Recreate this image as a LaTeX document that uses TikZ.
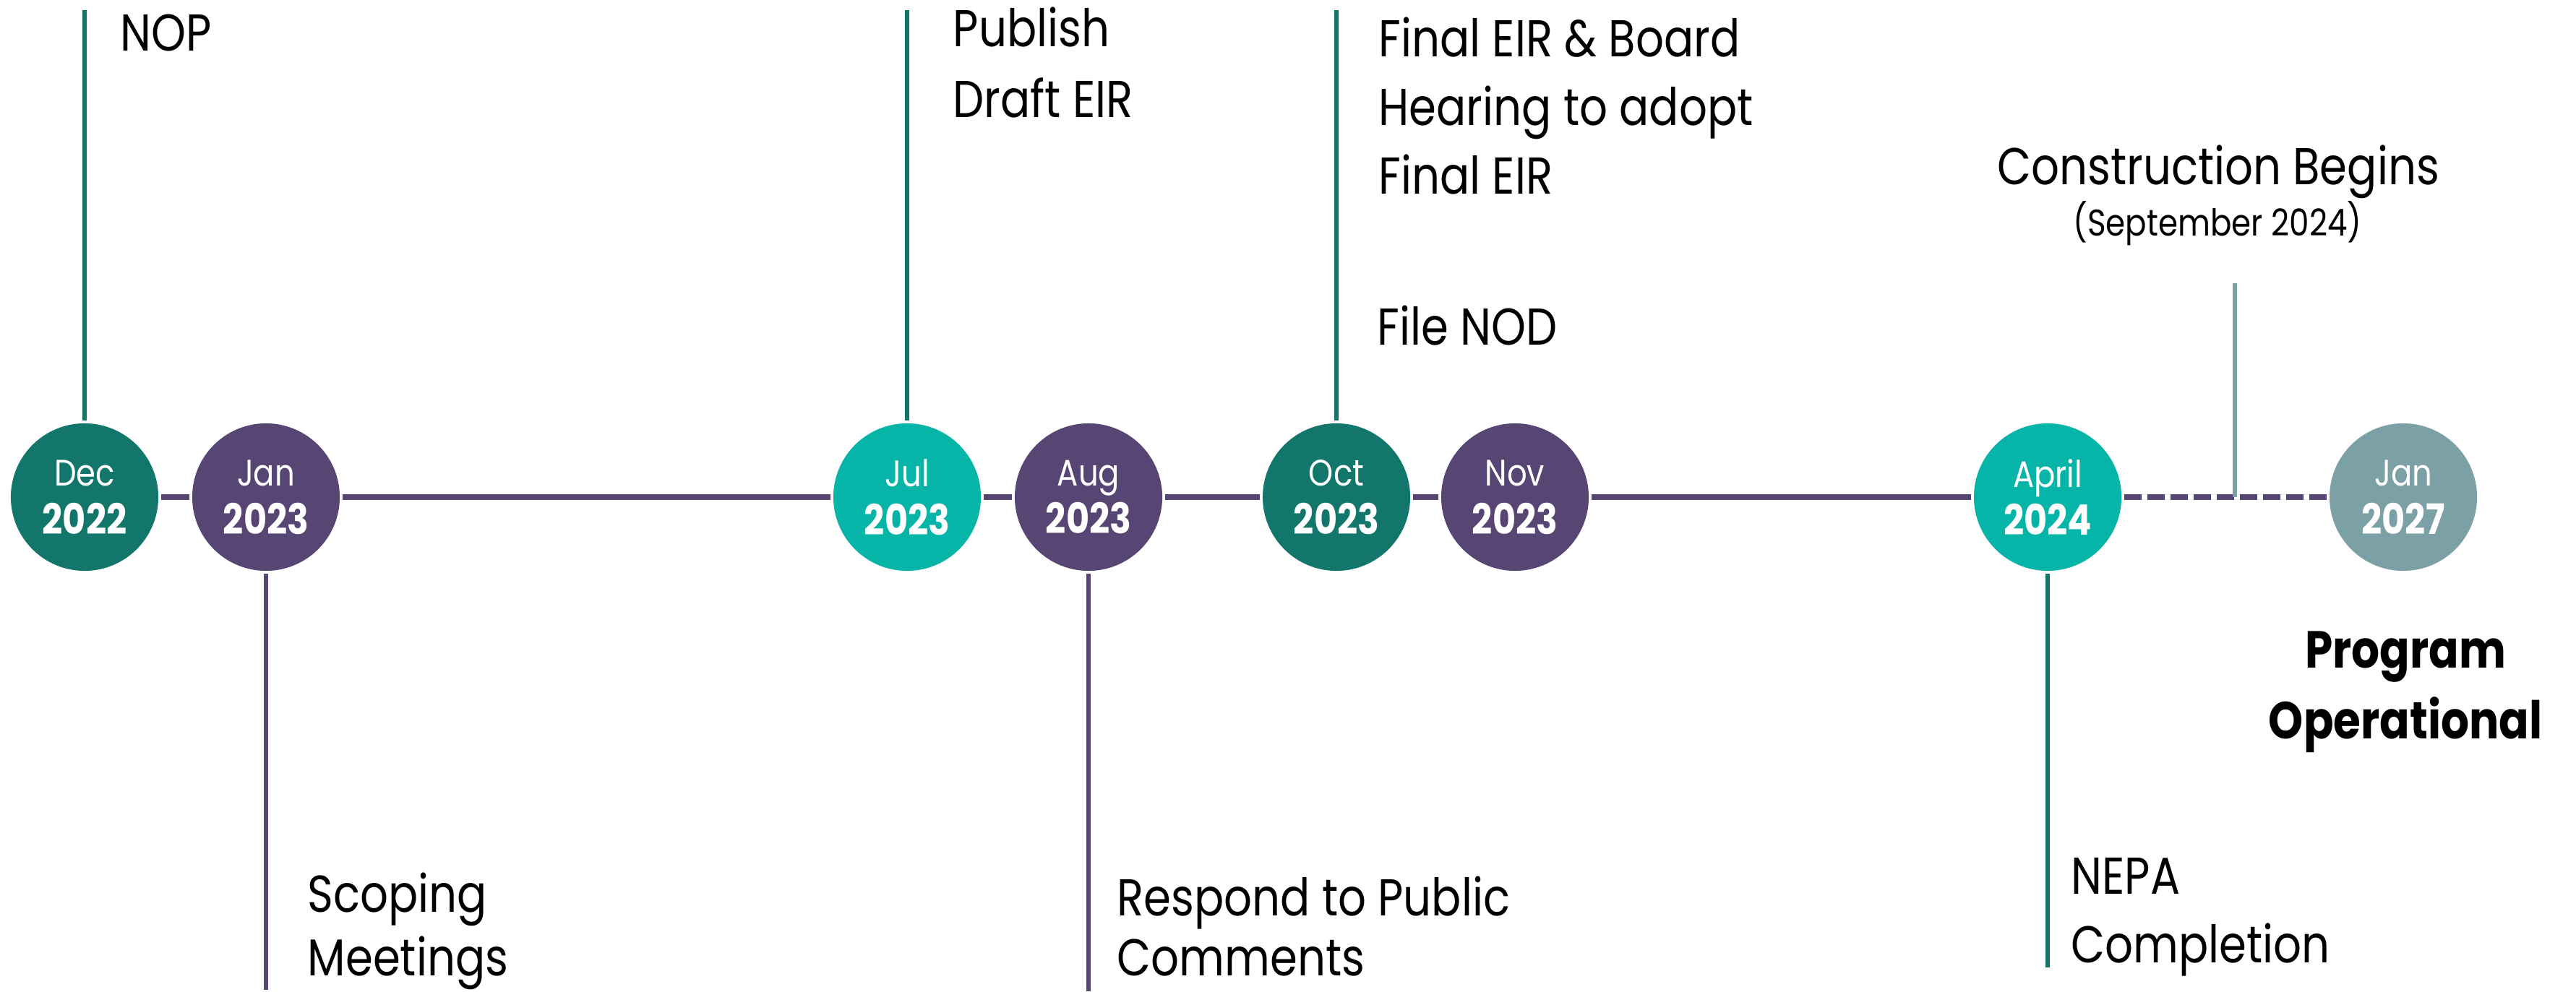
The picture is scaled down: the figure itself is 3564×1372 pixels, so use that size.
\documentclass[tikz,border=0pt]{standalone}
\usepackage{fontspec}
\setmainfont[FakeStretch=0.85]{Poppins}

\definecolor{dteal}{RGB}{19,118,106}
\definecolor{purp}{RGB}{87,69,115}
\definecolor{bteal}{RGB}{6,181,168}
\definecolor{gteal}{RGB}{123,160,165}

\begin{document}
\begin{tikzpicture}[x=0.01cm, y=-0.01cm,
    dot/.style={circle, fill=#1, minimum size=2.04cm, inner sep=0pt, outer sep=0.04cm,
                align=center, text=white, font=\fontsize{14.5}{19}\selectfont},
    lbl/.style={anchor=base west, align=left, inner sep=0pt,
                font=\fontsize{20.4}{27}\selectfont},
    mline/.style={draw=purp, line width=0.08cm},
    vline/.style={draw=#1, line width=0.06cm}
]
\fill[white] (0,0) rectangle (3564,1372);
\useasboundingbox (0,0) rectangle (3564,1372);

% milestones
\node[dot=dteal] (dec)   at ( 117,688) {Dec\\\bfseries\fontsize{16.5}{19}\selectfont 2022};
\node[dot=purp]  (jan23) at ( 368,688) {Jan\\\bfseries\fontsize{16.5}{19}\selectfont 2023};
\node[dot=bteal] (jul)   at (1255,688) {Jul\\\bfseries\fontsize{16.5}{19}\selectfont 2023};
\node[dot=purp]  (aug)   at (1506,688) {Aug\\\bfseries\fontsize{16.5}{19}\selectfont 2023};
\node[dot=dteal] (oct)   at (1849,688) {Oct\\\bfseries\fontsize{16.5}{19}\selectfont 2023};
\node[dot=purp]  (nov)   at (2096,688) {Nov\\\bfseries\fontsize{16.5}{19}\selectfont 2023};
\node[dot=bteal] (apr)   at (2833,688) {April\\\bfseries\fontsize{16.5}{19}\selectfont 2024};
\node[dot=gteal] (jan27) at (3325,688) {Jan\\\bfseries\fontsize{16.5}{19}\selectfont 2027};

% time line
\foreach \a/\b in {dec/jan23, jan23/jul, jul/aug, aug/oct, oct/nov, nov/apr}
  \draw[mline] (\a) -- (\b);
\draw[mline, dash pattern=on 0.24cm off 0.08cm] (apr) -- (jan27);

% stems
\coordinate (nopTop)   at ( 117,  14);
\coordinate (pubTop)   at (1255,  14);
\coordinate (feirTop)  at (1849,  14);
\coordinate (scopeEnd) at ( 368,1370);
\coordinate (respEnd)  at (1506,1372);
\coordinate (nepaEnd)  at (2833,1339);
\coordinate (consTop)  at (3092, 392);
\coordinate (consFoot) at (3092, 688);

\draw[vline=dteal] (nopTop)  -- (dec);
\draw[vline=dteal] (pubTop)  -- (jul);
\draw[vline=dteal] (feirTop) -- (oct);
\draw[vline=purp]  (jan23) -- (scopeEnd);
\draw[vline=purp]  (aug)   -- (respEnd);
\draw[vline=dteal] (apr)   -- (nepaEnd);
\draw[vline=gteal] (consTop) -- (consFoot);

% labels (base = last line)
\node[lbl] (nop)   at ( 166,  70) {NOP};
\node[lbl, font=\fontsize{20.4}{27.6}\selectfont] (pub) at (1318, 162) {Publish\\Draft EIR};
\node[lbl] (feir)  at (1907, 268) {Final EIR \& Board\\Hearing to adopt\\Final EIR};
\node[lbl] (fnod)  at (1905, 477) {File NOD};
\node[lbl, font=\fontsize{20.4}{25}\selectfont] (scope) at ( 425,1350) {Scoping\\Meetings};
\node[lbl, font=\fontsize{20.4}{23.6}\selectfont] (resp) at (1545,1350) {Respond to Public\\Comments};
\node[lbl] (nepa)  at (2865,1332) {NEPA\\Completion};
\node[lbl, anchor=base] (cons) at (3069,255) {Construction Begins};
\node[anchor=base, inner sep=0pt, font=\fontsize{14.6}{17}\selectfont] (consdate) at (3068,326) {(September 2024)};
\node[anchor=base, align=center, inner sep=0pt, font=\bfseries\fontsize{20.5}{27.6}\selectfont] (prog) at (3328,1022) {Program\\Operational};
\end{tikzpicture}
\end{document}
